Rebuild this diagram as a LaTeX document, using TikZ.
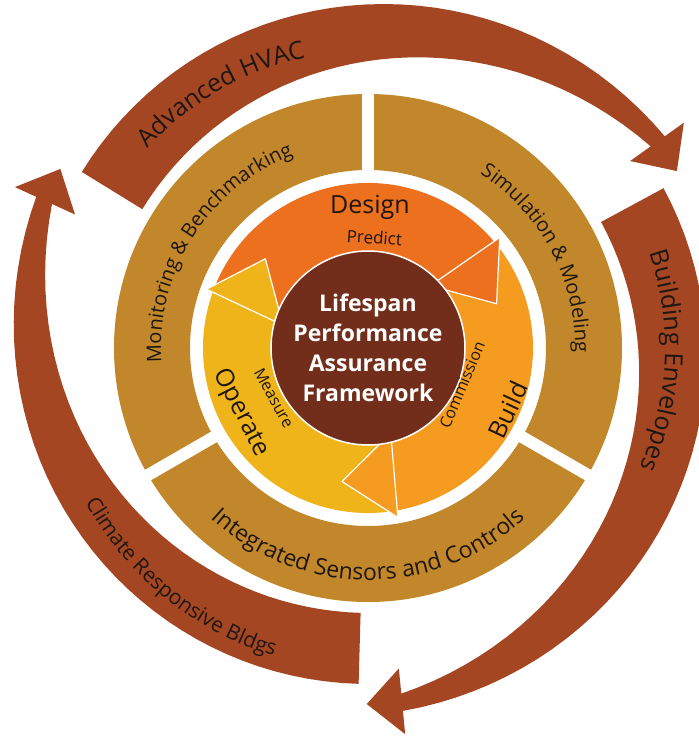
\documentclass[tikz,border=0pt]{standalone}
\usepackage{fontspec}
\setmainfont{Open Sans}
\usetikzlibrary{decorations.text}
\definecolor{lppaRed}{RGB}{165,70,35}
\definecolor{lppaTan}{RGB}{193,135,42}
\definecolor{lppaDesign}{RGB}{236,112,30}
\definecolor{lppaBuild}{RGB}{245,155,32}
\definecolor{lppaOperate}{RGB}{238,180,26}
\definecolor{lppaCore}{RGB}{114,46,26}
\definecolor{lppaText}{RGB}{30,22,18}

\begin{document}
\begin{tikzpicture}[x=1pt, y=1pt,
  ring/.style={fill=lppaTan, even odd rule},
  gap/.style={draw=white, line width=12pt},
  head/.style={draw=white, line width=1.2pt, line join=round},
  lbl/.style={text=lppaText, inner sep=0pt},
  bigfont/.style={font=\fontsize{25}{25}\selectfont},
  smallfont/.style={font=\fontsize{16}{16}\selectfont},
  arclbl/.style={decorate, decoration={text along path, text align=center,
                 text color=lppaText, text={#1}}}
]
  \useasboundingbox (-368,-392) rectangle (331,348);

  % outer arrows
  \fill[lppaRed] plot[domain=0:112.9, samples=40] ({148.4-\x}:{336+0.00225*\x*\x})
    -- (35.5:388) -- (29.8:356) -- (35.5:322)
    -- plot[domain=112.9:0, samples=40] ({148.4-\x}:{265+0.00646*\x*\x}) -- cycle;
  \fill[lppaRed] plot[domain=0:112.9, samples=40] ({28.4-\x}:{336+0.00225*\x*\x})
    -- (-84.5:388) -- (-90.2:356) -- (-84.5:322)
    -- plot[domain=112.9:0, samples=40] ({28.4-\x}:{265+0.00646*\x*\x}) -- cycle;
  \fill[lppaRed] plot[domain=0:112.9, samples=40] ({-91.6-\x}:{336+0.00225*\x*\x})
    -- (-204.5:388) -- (-210.2:356) -- (-204.5:322)
    -- plot[domain=112.9:0, samples=40] ({-91.6-\x}:{265+0.00646*\x*\x}) -- cycle;

  \path[arclbl={|\fontsize{25}{25}\selectfont|Advanced HVAC}]
    (155:297) arc[start angle=155, end angle=85, radius=297];
  \path[arclbl={|\fontsize{25}{25}\selectfont|Building Envelopes}]
    (45:297) arc[start angle=45, end angle=-50, radius=297];
  \path[arclbl={|\fontsize{21}{21}\selectfont|Climate Responsive Bldgs}]
    (190:322) arc[start angle=190, end angle=271.6, radius=322];

  % tan ring
  \fill[ring] (0,0) circle[radius=254] circle[radius=178];
  \draw[gap] (90:170) -- (90:262);
  \draw[gap] (-30:170) -- (-30:262);
  \draw[gap] (210:170) -- (210:262);

  \path[arclbl={|\fontsize{20}{20}\selectfont|Monitoring {\&} Benchmarking}]
    (195:207) arc[start angle=195, end angle=100, radius=207];
  \path[arclbl={|\fontsize{20}{20}\selectfont|Simulation {\&} Modeling}]
    (70:207) arc[start angle=70, end angle=-14, radius=207];
  \path[arclbl={|\fontsize{23}{23}\selectfont|Integrated Sensors and Controls}]
    (200:232) arc[start angle=200, end angle=340, radius=232];

  % cycle arrows
  \fill[lppaDesign] (160:165) arc[start angle=160, end angle=40, radius=165]
    -- (40:95) arc[start angle=40, end angle=160, radius=95] -- cycle;
  \fill[lppaBuild] (40:165) arc[start angle=40, end angle=-80, radius=165]
    -- (-80:95) arc[start angle=-80, end angle=40, radius=95] -- cycle;
  \fill[lppaOperate] (-80:165) arc[start angle=-80, end angle=-200, radius=165]
    -- (-200:95) arc[start angle=-200, end angle=-80, radius=95] -- cycle;
  \filldraw[head, fill=lppaDesign] (40:172) -- (19:136) -- (45:88) -- cycle;
  \filldraw[head, fill=lppaBuild] (-80:172) -- (-101:136) -- (-75:88) -- cycle;
  \filldraw[head, fill=lppaOperate] (160:172) -- (139:136) -- (165:88) -- cycle;

  \node[circle, fill=lppaCore, draw=white, line width=1.5pt, minimum size=194pt,
        text=white, align=center, font=\bfseries\fontsize{23}{30}\selectfont]
    (core) at (0,0) {Lifespan\\Performance\\Assurance\\Framework};

  \node[lbl, bigfont, anchor=base] (design) at (2,135) {Design};
  \node[lbl, font=\fontsize{17}{17}\selectfont, anchor=base, rotate=-4] (predict) at (6,104) {Predict};
  \node[lbl, bigfont, rotate=65] (build) at (140,-62) {Build};
  \node[lbl, smallfont, rotate=67] (commission) at (94,-37) {Commission};
  \node[lbl, bigfont, rotate=-63] (operate) at (-127,-65) {Operate};
  \node[lbl, smallfont, rotate=-61] (measure) at (-94,-50) {Measure};
\end{tikzpicture}
\end{document}
